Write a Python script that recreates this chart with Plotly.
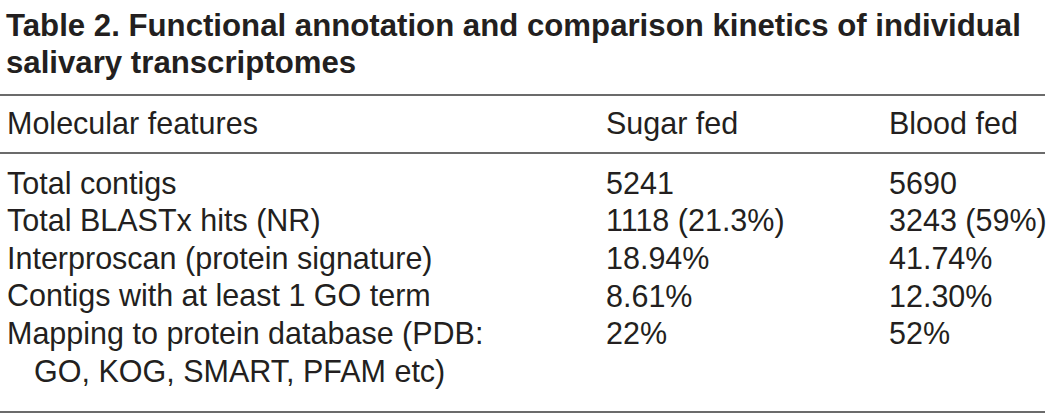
import plotly.graph_objects as go

TITLE_LINES = ["Table 2. Functional annotation and comparison kinetics of individual",
               "salivary transcriptomes"]
HEADERS = ["Molecular features", "Sugar fed", "Blood fed"]
FEATURES = ["Total contigs",
            "Total BLASTx hits (NR)",
            "Interproscan (protein signature)",
            "Contigs with at least 1 GO term",
            "Mapping to protein database (PDB:"]
FEATURE_CONT = "GO, KOG, SMART, PFAM etc)"
SUGAR_FED = ["5241", "1118 (21.3%)", "18.94%", "8.61%", "22%"]
BLOOD_FED = ["5690", "3243 (59%)", "41.74%", "12.30%", "52%"]

W, H = 1063, 419
TEXT_COLOR = '#231f20'
FONT = "Liberation Sans, Arial, sans-serif"
COL_X = [5, 604, 887]
ROW_Y0, ROW_STEP = 183, 37.6

fig = go.Figure()
annotations = []


def add_text(x, y, text, size=30.5, bold=False):
    annotations.append(dict(
        x=x, y=y, xref='x', yref='y', text=f"<b>{text}</b>" if bold else text,
        showarrow=False, xanchor='left', yanchor='middle',
        font=dict(family=FONT, size=size, color=TEXT_COLOR)
    ))


for i, line in enumerate(TITLE_LINES):
    add_text(4, 25 + i * 37, line, size=31.2, bold=True)

for x, h in zip(COL_X, HEADERS):
    add_text(x, 123, h)

for i, (feat, s, b) in enumerate(zip(FEATURES, SUGAR_FED, BLOOD_FED)):
    y = ROW_Y0 + i * ROW_STEP
    add_text(COL_X[0], y, feat)
    add_text(COL_X[1], y, s)
    add_text(COL_X[2], y, b)
add_text(COL_X[0] + 27, ROW_Y0 + len(FEATURES) * ROW_STEP, FEATURE_CONT)

shapes = [dict(type='line', xref='x', yref='y', x0=0, x1=1045, y0=yy, y1=yy,
               line=dict(color='#3a3a3a', width=1.6)) for yy in (95, 153, 412)]

fig.update_layout(
    width=W, height=H,
    margin=dict(l=0, r=0, t=0, b=0),
    paper_bgcolor='white', plot_bgcolor='white',
    annotations=annotations, shapes=shapes,
    xaxis=dict(range=[0, W], visible=False, fixedrange=True),
    yaxis=dict(range=[H, 0], visible=False, fixedrange=True),
    showlegend=False
)

fig.write_html("out.html", config=dict(displayModeBar=False),
               post_script="document.body.style.margin='0';")
